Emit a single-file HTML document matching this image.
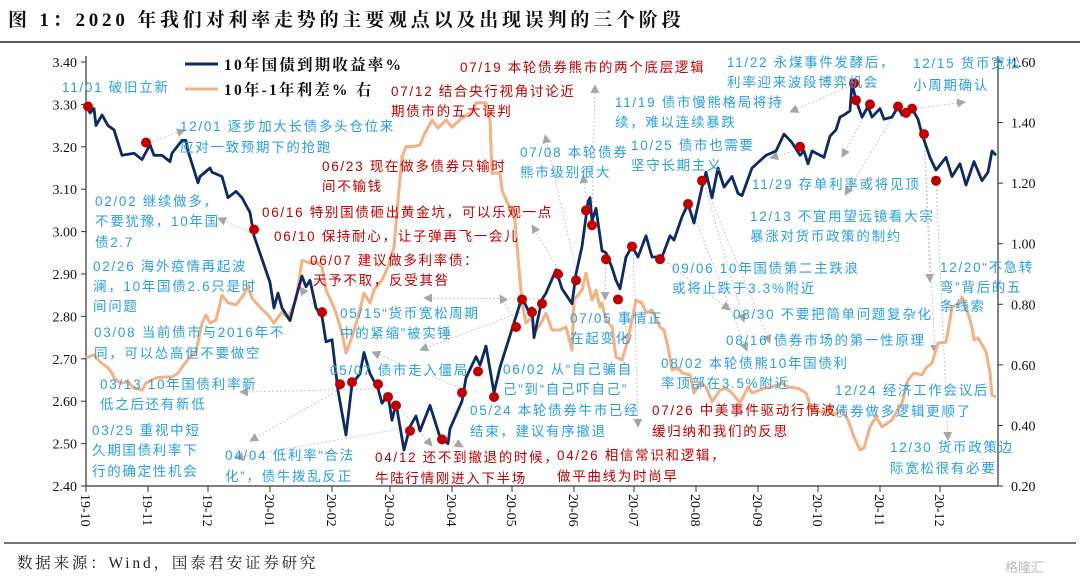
<!DOCTYPE html>
<html><head><meta charset="utf-8"><style>
html,body{margin:0;padding:0;background:#fff;}
svg{display:block;}
.t{font-family:"Liberation Serif","Noto Serif CJK SC",serif;}
.a{font-family:"Liberation Sans","Noto Sans CJK SC",sans-serif;font-size:13.5px;letter-spacing:1.7px;}
.b{fill:#2a9fe0;}
.r{fill:#c00000;}
</style></head><body>
<svg id="chart" width="1080" height="586" viewBox="0 0 1080 586" xmlns="http://www.w3.org/2000/svg">
<defs>
<marker id="ah" viewBox="0 0 10 10" refX="9" refY="5" markerWidth="9" markerHeight="9" orient="auto"><path d="M0,0 L10,5 L0,10 z" fill="#a6a6a6"/></marker>
</defs>
<text x="8" y="26" class="t" font-size="19" font-weight="bold" letter-spacing="3.8" fill="#111">图 1：2020 年我们对利率走势的主要观点以及出现误判的三个阶段</text>
<line x1="0" y1="42" x2="1080" y2="42" stroke="#222" stroke-width="1.5"/>
<line x1="4" y1="543" x2="1076" y2="543" stroke="#222" stroke-width="1.2"/>
<text x="17" y="568" class="t" font-size="15.5" letter-spacing="2.8" fill="#222">数据来源：Wind，国泰君安证券研究</text>
<text x="1005" y="572" font-family="Liberation Sans,Noto Sans CJK SC,sans-serif" font-size="13" fill="#bbb">格隆汇</text>
<g id="axes"></g>
<g id="arrows"></g>
<g id="series"></g>
<g id="notes"></g>
<g>
<line x1="185" y1="64" x2="218" y2="64" stroke="#0e2a63" stroke-width="3"/>
<text x="224" y="70" class="t" font-size="15.5" font-weight="bold" letter-spacing="2.2" fill="#111">10年国债到期收益率%</text>
<line x1="185" y1="89" x2="218" y2="89" stroke="#f4b183" stroke-width="3"/>
<text x="224" y="95" class="t" font-size="15.5" font-weight="bold" letter-spacing="2.2" fill="#111">10年-1年利差% 右</text>
</g>
</svg>
<script>
const monthLabels=["19-10","19-11","19-12","20-01","20-02","20-03","20-04","20-05","20-06","20-07","20-08","20-09","20-10","20-11","20-12"];
const monthStartDays=[0,31,61,92,123,152,183,213,244,274,305,336,366,397,427];
const leftTicks=[2.40,2.50,2.60,2.70,2.80,2.90,3.00,3.10,3.20,3.30,3.40];
const rightTicks=[0.20,0.40,0.60,0.80,1.00,1.20,1.40,1.60];
const yieldDays=[0,2,4,5,8,11,14,18,24,28,32,34,38,42,43,48,50,51,56,57,62,63,68,71,75,78,82,84,92,94,96,98,102,105,108,110,112,115,118,120,123,126,130,133,137,139,142,146,148,151,153,155,159,162,165,167,172,177,181,182,188,190,195,197,200,202,204,207,210,214,218,221,223,224,228,230,235,238,243,245,248,251,252,253,255,258,260,263,265,267,270,273,276,280,283,288,292,294,298,301,304,308,310,313,316,319,323,326,328,333,340,345,349,353,357,359,361,363,369,372,375,377,379,382,383,385,388,391,393,397,399,403,406,408,413,416,418,422,425,430,433,437,440,444,448,451,453,455];
const yieldValues=[3.30,3.28,3.29,3.25,3.275,3.25,3.24,3.18,3.185,3.17,3.205,3.18,3.18,3.165,3.185,3.215,3.215,3.19,3.115,3.13,3.15,3.14,3.13,3.08,3.095,3.08,3.045,2.99,2.88,2.82,2.855,2.82,2.79,2.845,2.895,2.87,2.885,2.82,2.80,2.74,2.745,2.625,2.52,2.64,2.665,2.715,2.665,2.63,2.595,2.615,2.555,2.595,2.485,2.54,2.565,2.53,2.59,2.515,2.50,2.535,2.60,2.655,2.705,2.685,2.73,2.675,2.62,2.68,2.725,2.785,2.845,2.815,2.82,2.75,2.84,2.855,2.91,2.865,2.83,2.90,2.965,3.07,3.08,3.025,3.055,2.955,2.95,2.915,2.885,2.865,2.94,2.965,2.94,2.99,2.94,2.94,2.99,2.98,3.035,3.065,3.02,3.105,3.14,3.08,3.15,3.105,3.13,3.09,3.085,3.15,3.18,3.19,3.23,3.21,3.18,3.19,3.16,3.19,3.175,3.225,3.24,3.27,3.275,3.285,3.35,3.31,3.27,3.295,3.27,3.29,3.265,3.27,3.295,3.275,3.29,3.265,3.23,3.175,3.145,3.175,3.13,3.16,3.11,3.165,3.12,3.14,3.19,3.18];
const spreadDays=[0,4,7,11,13,14,17,21,24,28,30,35,40,43,46,50,53,55,58,60,62,65,68,71,75,78,81,83,87,91,94,98,101,105,108,112,115,118,120,123,125,128,130,133,136,139,142,144,148,151,154,156,158,160,163,167,169,173,176,180,183,188,193,195,200,202,203,207,208,213,214,216,218,220,223,224,227,230,233,237,240,243,244,248,250,253,255,257,258,260,263,265,268,270,273,275,278,280,283,287,289,291,293,296,298,302,304,307,310,313,317,320,323,327,331,333,339,343,348,351,356,360,363,368,372,374,378,381,384,387,389,392,395,398,403,405,408,411,414,418,420,423,426,430,432,433,437,438,440,443,444,446,450,452,453,455];
const spreadValues=[0.623,0.633,0.61,0.59,0.573,0.557,0.54,0.543,0.523,0.517,0.54,0.557,0.56,0.56,0.573,0.61,0.633,0.643,0.738,0.765,0.738,0.748,0.83,0.805,0.798,0.824,0.857,0.82,0.79,0.765,0.738,0.775,0.755,0.814,0.946,0.936,0.94,0.923,0.847,0.804,0.771,0.705,0.639,0.692,0.758,0.837,0.804,0.847,0.88,0.923,0.989,1.144,1.286,1.32,1.32,1.326,1.359,1.408,1.382,1.408,1.385,1.415,1.435,1.465,1.465,1.408,1.233,1.233,1.177,1.10,1.11,0.956,0.804,0.738,0.758,0.705,0.732,0.771,0.715,0.715,0.725,0.649,0.814,0.847,0.903,0.814,0.847,0.791,0.804,0.748,0.725,0.626,0.616,0.659,0.748,0.814,0.804,0.771,0.781,0.725,0.715,0.659,0.583,0.59,0.573,0.567,0.507,0.54,0.527,0.478,0.517,0.523,0.507,0.474,0.527,0.507,0.523,0.527,0.54,0.527,0.523,0.507,0.451,0.444,0.461,0.435,0.451,0.418,0.362,0.319,0.326,0.395,0.428,0.395,0.418,0.441,0.474,0.55,0.573,0.567,0.59,0.606,0.672,0.675,0.748,0.791,0.804,0.824,0.791,0.725,0.682,0.689,0.643,0.573,0.50,0.494];
const dotDays=[1,30,84,118,127,133,146,151,155,162,178,188,196,204,215,218,223,228,236,245,250,253,260,266,273,287,301,308,357,384,385,392,406,410,413,419,425];
const dotValues=[3.295,3.21,3.005,2.81,2.64,2.645,2.64,2.61,2.59,2.53,2.51,2.62,2.67,2.61,2.775,2.84,2.81,2.83,2.90,2.885,3.05,3.015,2.935,2.84,2.965,2.935,3.065,3.12,3.20,3.35,3.31,3.30,3.295,3.28,3.29,3.23,3.12];

const NS="http://www.w3.org/2000/svg";
const X0=86,X1=1000,TOTAL=457,Y0=62,Y1=486;
function xs(d){return X0+d*(X1-X0)/TOTAL;}
function yl(v){return Y1-(v-2.40)/(3.40-2.40)*(Y1-Y0);}
function yr(v){return Y1-(v-0.20)/(1.60-0.20)*(Y1-Y0);}
function mk(tag,attrs,parent){const e=document.createElementNS(NS,tag);for(const k in attrs)e.setAttribute(k,attrs[k]);parent.appendChild(e);return e;}

const axes=document.getElementById('axes');
let e=mk('line',{x1:X0,y1:Y0-6,x2:X0,y2:Y1,stroke:'#333','stroke-width':1.2},axes);


e=mk('line',{x1:998,y1:Y0-6,x2:998,y2:Y1,stroke:'#333','stroke-width':1.2},axes);


e=mk('line',{x1:X0,y1:Y1,x2:998,y2:Y1,stroke:'#333','stroke-width':1.2},axes);


leftTicks.forEach(v=>{
  const y=yl(v);
  mk('line',{x1:X0-5,y1:y,x2:X0,y2:y,stroke:'#333'},axes);
  const t=mk('text',{x:X0-9,y:y+5,'text-anchor':'end','font-size':14,'class':'t',fill:'#111'},axes);
  t.textContent=v.toFixed(2);
  
  
});
rightTicks.forEach(v=>{
  const y=yr(v);
  mk('line',{x1:998,y1:y,x2:1003,y2:y,stroke:'#333'},axes);
  const t=mk('text',{x:1011,y:y+5,'font-size':14,'class':'t',fill:'#111'},axes);
  t.textContent=v.toFixed(2);
  
  
});
monthLabels.forEach((m,i)=>{
  const x=xs(monthStartDays[i]);
  mk('line',{x1:x,y1:Y1,x2:x,y2:Y1+6,stroke:'#333'},axes);
  const t=mk('text',{x:0,y:0,'font-size':14,'class':'t',fill:'#111',transform:`translate(${x-5},${Y1+8}) rotate(90)`},axes);
  t.textContent=m;
  
  
});

const ser=document.getElementById('series');
let d='';spreadDays.forEach((dd,i)=>{d+=(i?'L':'M')+xs(dd).toFixed(1)+','+yr(spreadValues[i]).toFixed(1);});
e=mk('path',{d:d,fill:'none',stroke:'#f4b183','stroke-width':3,'stroke-linejoin':'round'},ser);


d='';yieldDays.forEach((dd,i)=>{d+=(i?'L':'M')+xs(dd).toFixed(1)+','+yl(yieldValues[i]).toFixed(1);});
e=mk('path',{d:d,fill:'none',stroke:'#0e2a63','stroke-width':2.8,'stroke-linejoin':'round'},ser);


dotDays.forEach((dd,i)=>{
  const c=mk('circle',{cx:xs(dd),cy:yl(dotValues[i]),r:5,fill:'#c00000'},ser);
  
  
});

const arrows=[[145,144,185,130],[254,234,218,218],[322,317,300,287],[378,389,240,392],[340,389,250,441],[410,427,235,458],[442,435,463,447],[388,395,432,446],[516,323,500,295],[532,308,420,350],[543,299,424,298],[463,389,372,352],[558,269,532,225],[577,275,545,135],[587,205,583,175],[592,219,595,85],[606,252,605,300],[619,291,629,343],[633,246,638,427],[661,258,730,310],[689,203,747,351],[703,180,770,343],[703,180,744,322],[801,149,770,158],[854,84,790,112],[871,104,842,157],[899,107,845,195],[912,109,965,102],[924,134,935,353],[924,134,930,282],[936,181,948,440]];
const ag=document.getElementById('arrows');
arrows.forEach(a=>{
  const l=mk('line',{x1:a[0],y1:a[1],x2:a[2],y2:a[3],stroke:'#c8c8c8','stroke-width':1,'stroke-dasharray':'2,2','marker-end':'url(#ah)'},ag);
  
  
});

const notes=[
['b',62,92,'11/01 破旧立新'],
['b',180,131,'12/01 逐步加大长债多头仓位来'],['b',180,152,'应对一致预期下的抢跑'],
['b',95,206,'02/02 继续做多，'],['b',95,226,'不要犹豫，10年国'],['b',95,247,'债2.7'],
['b',93,271,'02/26 海外疫情再起波'],['b',93,291,'澜，10年国债2.6只是时'],['b',93,311,'间问题'],
['b',94,337,'03/08 当前债市与2016年不'],['b',94,358,'同，可以怂高但不要做空'],
['b',100,389,'03/13 10年国债利率新'],['b',100,409,'低之后还有新低'],
['b',92,435,'03/25 重视中短'],['b',92,455,'久期国债利率下'],['b',92,476,'行的确定性机会'],
['b',225,460,'04/04 低利率“合法'],['b',225,481,'化”，债牛拨乱反正'],
['b',340,318,'05/15“货币宽松周期'],['b',340,338,'中的紧缩”被实锤'],
['b',330,375,'05/07 债市走入僵局'],
['b',503,374,'06/02 从“自己骗自'],['b',503,394,'己”到“自己吓自己”'],
['b',470,415,'05/24 本轮债券牛市已经'],['b',470,436,'结束，建议有序撤退'],
['b',570,323,'07/05 事情正'],['b',570,343,'在起变化'],
['b',520,157,'07/08 本轮债券'],['b',520,177,'熊市级别很大'],
['b',615,107,'11/19 债市慢熊格局将持'],['b',615,127,'续，难以连续暴跌'],
['b',631,150,'10/25 债市也需要'],['b',631,170,'坚守长期主义'],
['b',727,67,'11/22 永煤事件发酵后，'],['b',727,87,'利率迎来波段博弈机会'],
['b',913,68,'12/15 货币宽松'],['b',913,90,'小周期确认'],
['b',752,189,'11/29 存单利率或将见顶'],
['b',750,221,'12/13 不宜用望远镜看大宗'],['b',750,241,'暴涨对货币政策的制约'],
['b',672,273,'09/06 10年国债第二主跌浪'],['b',672,293,'或将止跌于3.3%附近'],
['b',733,319,'08/30 不要把简单问题复杂化'],
['b',726,345,'08/16 债券市场的第一性原理'],
['b',661,368,'08/02 本轮债熊10年国债利'],['b',661,388,'率顶部在3.5%附近'],
['b',940,272,'12/20“不急转'],['b',940,292,'弯”背后的五'],['b',940,311,'条线索'],
['b',835,395,'12/24 经济工作会议后'],['b',835,416,'债券做多逻辑更顺了'],
['b',890,452,'12/30 货币政策边'],['b',890,473,'际宽松很有必要'],
['r',460,72,'07/19 本轮债券熊市的两个底层逻辑'],
['r',391,96,'07/12 结合央行视角讨论近'],['r',391,116,'期债市的五大误判'],
['r',322,171,'06/23 现在做多债券只输时'],['r',322,191,'间不输钱'],
['r',262,217,'06/16 特别国债砸出黄金坑，可以乐观一点'],
['r',274,241,'06/10 保持耐心，让子弹再飞一会儿'],
['r',310,265,'06/07 建议做多利率债：'],['r',313,285,'天予不取，反受其咎'],
['r',375,462,'04/12 还不到撤退的时候，'],['r',375,483,'牛陆行情刚进入下半场'],
['r',557,460,'04/26 相信常识和逻辑，'],['r',557,481,'做平曲线为时尚早'],
['r',652,415,'07/26 中美事件驱动行情波'],['r',652,436,'缓归纳和我们的反思']
];
const ng=document.getElementById('notes');
notes.forEach(n=>{
  const t=mk('text',{x:n[1],y:n[2],'class':'a '+n[0]},ng);
  t.textContent=n[3];
  
  
});
</script>
</body></html>
